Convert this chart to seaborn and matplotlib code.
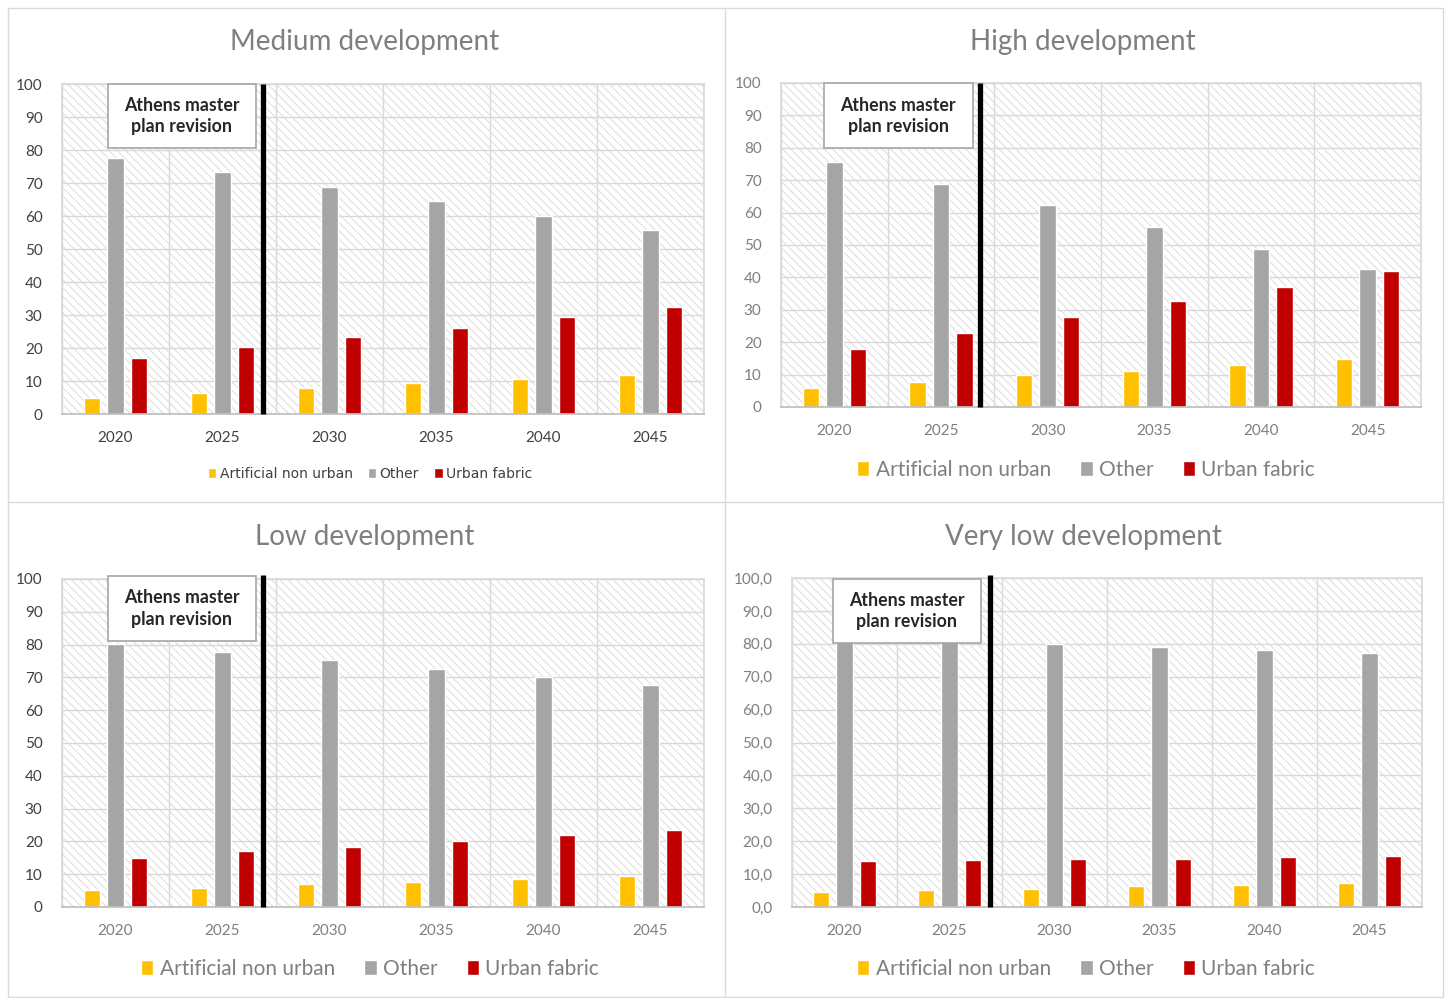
import matplotlib
matplotlib.use("Agg")
import matplotlib.pyplot as plt
import numpy as np
import pandas as pd
import seaborn as sns
from matplotlib.patches import Rectangle
from matplotlib.lines import Line2D
from matplotlib.ticker import FixedLocator, FuncFormatter

# ---------------- data ----------------
years = ["2020", "2025", "2030", "2035", "2040", "2045"]
series = ["Artificial non urban", "Other", "Urban fabric"]
colors = ["#FFC000", "#A5A5A5", "#C00000"]

medium_artificial = [4.8, 6.3, 8.0, 9.3, 10.5, 11.9]
medium_other = [77.5, 73.2, 68.9, 64.5, 60.1, 55.7]
medium_urban = [17.1, 20.2, 23.2, 26.2, 29.3, 32.3]

high_artificial = [6.0, 7.8, 9.8, 11.2, 13.1, 14.8]
high_other = [75.6, 68.9, 62.3, 55.7, 48.9, 42.7]
high_urban = [17.9, 22.8, 27.7, 32.6, 37.0, 42.0]

low_artificial = [5.1, 5.9, 6.9, 7.7, 8.6, 9.5]
low_other = [80.3, 77.8, 75.2, 72.5, 70.0, 67.8]
low_urban = [15.0, 17.0, 18.2, 20.0, 21.8, 23.4]

verylow_artificial = [4.6, 5.1, 5.6, 6.3, 6.8, 7.2]
verylow_other = [81.5, 80.7, 79.9, 79.0, 78.2, 77.3]
verylow_urban = [13.9, 14.3, 14.7, 14.7, 15.1, 15.5]

titles = ["Medium development", "High development",
          "Low development", "Very low development"]
note = "Athens master\nplan revision"

# ---------------- layout (pixels) ----------------
W, H = 1449, 998
sns.set_theme(style="white")
plt.rcParams["font.family"] = ["Lato", "DejaVu Sans"]
plt.rcParams["hatch.linewidth"] = 0.7

fig = plt.figure(figsize=(W / 100, H / 100), dpi=100)
fig.patch.set_facecolor("white")


def frac_box(x0, x1, ytop, ybot):
    return [x0 / W, 1 - ybot / H, (x1 - x0) / W, (ybot - ytop) / H]


panels = [
    dict(title=titles[0], vals=(medium_artificial, medium_other, medium_urban),
         box=frac_box(62, 704, 84, 414), title_xy=(365, 42), leg_xy=(370, 474),
         leg_small=True, comma=False, line_x=1.38, line_top=1.0,
         note_box=(-0.07, 1.31, 80.5, 100.0)),
    dict(title=titles[1], vals=(high_artificial, high_other, high_urban),
         box=frac_box(781, 1421, 83, 407), title_xy=(1083, 42), leg_xy=(1086, 470),
         leg_small=False, comma=False, line_x=1.37, line_top=1.0,
         note_box=(-0.10, 1.30, 79.8, 100.0)),
    dict(title=titles[2], vals=(low_artificial, low_other, low_urban),
         box=frac_box(62, 704, 579, 907), title_xy=(365, 537), leg_xy=(370, 969),
         leg_small=False, comma=False, line_x=1.38, line_top=1.012,
         note_box=(-0.07, 1.31, 81.0, 101.0)),
    dict(title=titles[3], vals=(verylow_artificial, verylow_other, verylow_urban),
         box=frac_box(792, 1422, 578, 907), title_xy=(1083, 537), leg_xy=(1086, 969),
         leg_small=False, comma=True, line_x=1.39, line_top=1.01,
         note_box=(-0.11, 1.30, 80.3, 99.8)),
]

grid_c = "#d9d9d9"
text_dark = "#404040"
text_gray = "#7f7f7f"

for i, p in enumerate(panels):
    ax = fig.add_axes(p["box"])
    a, o, u = p["vals"]
    df = pd.DataFrame({
        "year": years * 3,
        "value": list(a) + list(o) + list(u),
        "series": [series[0]] * 6 + [series[1]] * 6 + [series[2]] * 6,
    })

    # finely hatched plot-area background
    bg = Rectangle((0, 0), 1, 1, transform=ax.transAxes, facecolor="white",
                   edgecolor="#dcdcdc", hatch="\\\\\\\\", lw=0, zorder=0.1)
    ax.add_patch(bg)

    sns.barplot(data=df, x="year", y="value", hue="series", hue_order=series,
                palette=colors, order=years, width=0.66, gap=0.3,
                saturation=1, ax=ax, legend=True, zorder=2)

    ax.set_ylim(0, 100)
    ax.set_xlim(-0.5, 5.5)
    ax.set_xlabel("")
    ax.set_ylabel("")
    ax.set_yticks(np.arange(0, 101, 10))
    if p["comma"]:
        ax.yaxis.set_major_formatter(FuncFormatter(lambda v, _: f"{v:.1f}".replace(".", ",")))
    ax.xaxis.set_minor_locator(FixedLocator(np.arange(-0.5, 6, 1.0)))
    ax.set_axisbelow(True)
    ax.grid(axis="y", which="major", color=grid_c, lw=1, zorder=0.5)
    ax.grid(axis="x", which="minor", color=grid_c, lw=1, zorder=0.5)
    ax.grid(axis="x", which="major", visible=False)
    tick_c = text_dark if i in (0, 2) else text_gray
    xtick_c = text_dark if i == 0 else text_gray
    ax.tick_params(axis="y", length=0, labelsize=11, labelcolor=tick_c, pad=14)
    ax.tick_params(axis="x", which="both", length=0, labelsize=11,
                   labelcolor=xtick_c, pad=12)
    for s in ["top", "right", "left"]:
        ax.spines[s].set_color(grid_c)
    ax.spines["bottom"].set_color("#bfbfbf")

    # master-plan revision marker
    ax.plot([p["line_x"], p["line_x"]], [0, p["line_top"]],
            transform=ax.get_xaxis_transform(), color="black", lw=3.8,
            zorder=5, clip_on=False, solid_capstyle="butt")
    x0, x1, y0, y1 = p["note_box"]
    ax.add_patch(Rectangle((x0, y0), x1 - x0, y1 - y0, facecolor="white",
                           edgecolor="#a6a6a6", lw=1.2, zorder=6, clip_on=False))
    ax.text((x0 + x1) / 2, (y0 + y1) / 2, note, ha="center", va="center",
            fontsize=12.8, fontweight="bold", color="#262626", zorder=7,
            linespacing=1.3)

    # legend below the plot
    lx, ly = p["leg_xy"]
    if p["leg_small"]:
        leg_kw = dict(fontsize=10, handlelength=0.6, handleheight=0.75,
                      handletextpad=0.25, columnspacing=1.1)
    else:
        leg_kw = dict(fontsize=15, handlelength=0.6, handleheight=0.7,
                      handletextpad=0.3, columnspacing=1.4)
    sns.move_legend(ax, "center", bbox_to_anchor=(lx / W, 1 - ly / H),
                    bbox_transform=fig.transFigure, ncol=3, frameon=False,
                    title=None, **leg_kw)
    leg = ax.get_legend()
    for t in leg.get_texts():
        t.set_color(text_dark if p["leg_small"] else text_gray)
        if p["leg_small"]:
            t.set_fontfamily(["DejaVu Sans"])

    tx, ty = p["title_xy"]
    fig.text(tx / W, 1 - ty / H, p["title"], ha="center", va="center",
             fontsize=20, color=text_gray)

# panel separators and outer frame
frame_c = "#d9d9d9"
fig.add_artist(Rectangle((8 / W, 1 - 997 / H), (1443 - 8) / W, (997 - 8) / H,
                         transform=fig.transFigure, fill=False,
                         edgecolor=frame_c, lw=1))
fig.add_artist(Line2D([725 / W, 725 / W], [1 - 997 / H, 1 - 8 / H],
                      transform=fig.transFigure, color=frame_c, lw=1))
fig.add_artist(Line2D([8 / W, 1443 / W], [1 - 502 / H, 1 - 502 / H],
                      transform=fig.transFigure, color=frame_c, lw=1))

fig.savefig("out.png", dpi=100, facecolor="white")
